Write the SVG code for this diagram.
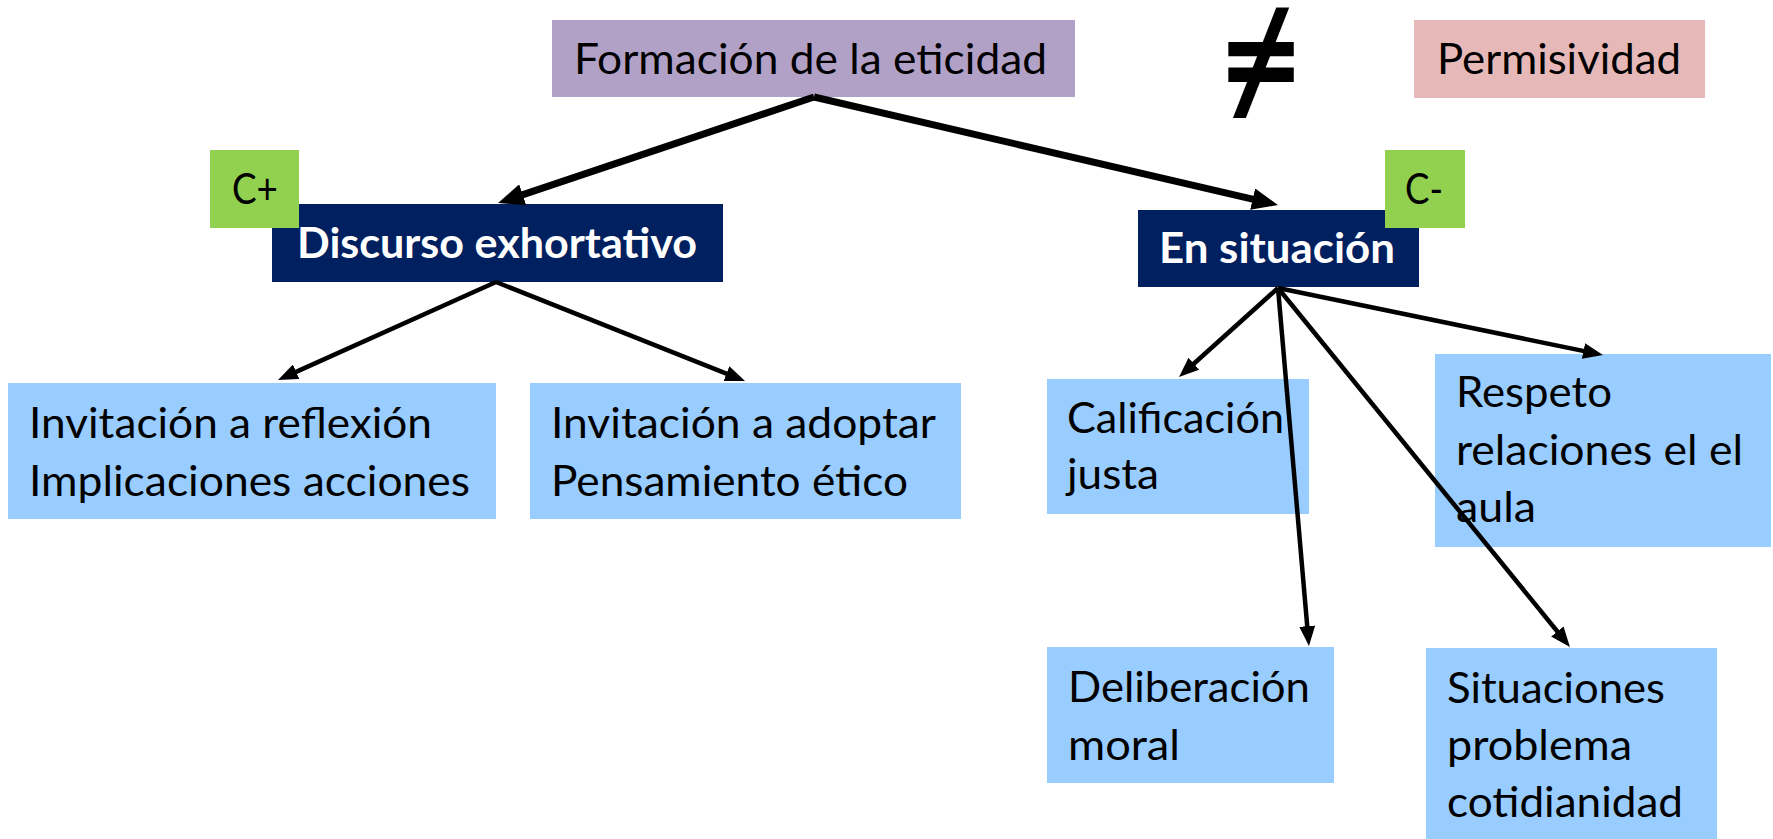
<svg xmlns="http://www.w3.org/2000/svg" width="1773" height="839" viewBox="0 0 1773 839">
<style>
.t{font-family:Lato,"Open Sans","Liberation Sans",sans-serif;font-size:42.5px;fill:#000}
.w{font-family:Lato,"Open Sans","Liberation Sans",sans-serif;font-size:42.5px;font-weight:bold;fill:#fff}
.blue{fill:#99CCFF}
.navy{fill:#002060}
.green{fill:#92D050}
.c1{stroke:#000;stroke-width:7;fill:none}
.c2{stroke:#000;stroke-width:4.5;fill:none}
</style>
<defs>
<marker id="ab" markerUnits="userSpaceOnUse" viewBox="0 0 26 22" markerWidth="26" markerHeight="22" refX="2" refY="11" orient="auto"><path d="M0,0 L26,11 L0,22 z" fill="#000"/></marker>
<marker id="as" markerUnits="userSpaceOnUse" viewBox="0 0 20 16" markerWidth="20" markerHeight="16" refX="2" refY="8" orient="auto"><path d="M0,0 L20,8 L0,16 z" fill="#000"/></marker>
</defs>
<rect width="1773" height="839" fill="#fff"/>
<g id="formacion">
<rect x="552" y="20" width="523" height="77" fill="#B2A1C7"/>
<text class="t" x="574" y="74" textLength="473" lengthAdjust="spacingAndGlyphs">Formación de la eticidad</text>
</g>
<g id="noigual">
<text x="1261" y="110" text-anchor="middle" style="font-family:'Noto Sans',sans-serif;font-weight:bold;font-size:135px;fill:#000">≠</text>
</g>
<g id="permisividad">
<rect x="1414" y="20" width="291" height="78" fill="#E6B9B8"/>
<text class="t" x="1437" y="74" textLength="244" lengthAdjust="spacingAndGlyphs">Permisividad</text>
</g>
<g id="discurso">
<rect class="navy" x="272" y="204" width="451" height="78"/>
<text class="w" x="297" y="258" textLength="400" lengthAdjust="spacingAndGlyphs">Discurso exhortativo</text>
</g>
<g id="cmas">
<rect class="green" x="210" y="150" width="89" height="78"/>
<text class="t" x="232" y="204" textLength="46" lengthAdjust="spacingAndGlyphs">C+</text>
</g>
<g id="situacion">
<rect class="navy" x="1138" y="210" width="281" height="77"/>
<text class="w" x="1159" y="263" textLength="236" lengthAdjust="spacingAndGlyphs">En situación</text>
</g>
<g id="cmenos">
<rect class="green" x="1385" y="150" width="80" height="78"/>
<text class="t" x="1405" y="204" textLength="38" lengthAdjust="spacingAndGlyphs">C-</text>
</g>
<g id="reflexion">
<rect class="blue" x="8" y="383" width="488" height="136"/>
<text class="t" x="29" y="438" textLength="403" lengthAdjust="spacingAndGlyphs">Invitación a reflexión</text>
<text class="t" x="29" y="496" textLength="441" lengthAdjust="spacingAndGlyphs">Implicaciones acciones</text>
</g>
<g id="adoptar">
<rect class="blue" x="530" y="383" width="431" height="136"/>
<text class="t" x="551" y="438" textLength="385" lengthAdjust="spacingAndGlyphs">Invitación a adoptar</text>
<text class="t" x="551" y="496" textLength="357" lengthAdjust="spacingAndGlyphs">Pensamiento ético</text>
</g>
<g id="calificacion">
<rect class="blue" x="1047" y="379" width="262" height="135"/>
<text class="t" x="1067" y="433" textLength="217" lengthAdjust="spacingAndGlyphs">Calificación</text>
<text class="t" x="1067" y="489" textLength="92" lengthAdjust="spacingAndGlyphs">justa</text>
</g>
<g id="respeto">
<rect class="blue" x="1435" y="354" width="336" height="193"/>
<text class="t" x="1456" y="407" textLength="156" lengthAdjust="spacingAndGlyphs">Respeto</text>
<text class="t" x="1456" y="465" textLength="287" lengthAdjust="spacingAndGlyphs">relaciones el el</text>
<text class="t" x="1456" y="522" textLength="80" lengthAdjust="spacingAndGlyphs">aula</text>
</g>
<g id="deliberacion">
<rect class="blue" x="1047" y="647" width="287" height="136"/>
<text class="t" x="1068" y="702" textLength="242" lengthAdjust="spacingAndGlyphs">Deliberación</text>
<text class="t" x="1068" y="760" textLength="112" lengthAdjust="spacingAndGlyphs">moral</text>
</g>
<g id="situaciones">
<rect class="blue" x="1426" y="648" width="291" height="191"/>
<text class="t" x="1447" y="703" textLength="218" lengthAdjust="spacingAndGlyphs">Situaciones</text>
<text class="t" x="1447" y="760" textLength="185" lengthAdjust="spacingAndGlyphs">problema</text>
<text class="t" x="1447" y="817" textLength="236" lengthAdjust="spacingAndGlyphs">cotidianidad</text>
</g>
<g id="connectors">
<line class="c1" x1="814" y1="97" x2="520.8" y2="195.4" marker-end="url(#ab)"/>
<line class="c1" x1="814" y1="97" x2="1254.6" y2="199.6" marker-end="url(#ab)"/>
<line class="c2" x1="496" y1="282" x2="294.4" y2="372.6" marker-end="url(#as)"/>
<line class="c2" x1="496" y1="282" x2="728.3" y2="374.4" marker-end="url(#as)"/>
<line class="c2" x1="1278" y1="288" x2="1192.4" y2="365" marker-end="url(#as)"/>
<line class="c2" x1="1278" y1="288" x2="1307.4" y2="628.1" marker-end="url(#as)"/>
<line class="c2" x1="1278" y1="288" x2="1558.6" y2="633" marker-end="url(#as)"/>
<line class="c2" x1="1278" y1="288" x2="1585.4" y2="351.4" marker-end="url(#as)"/>
</g>
</svg>
